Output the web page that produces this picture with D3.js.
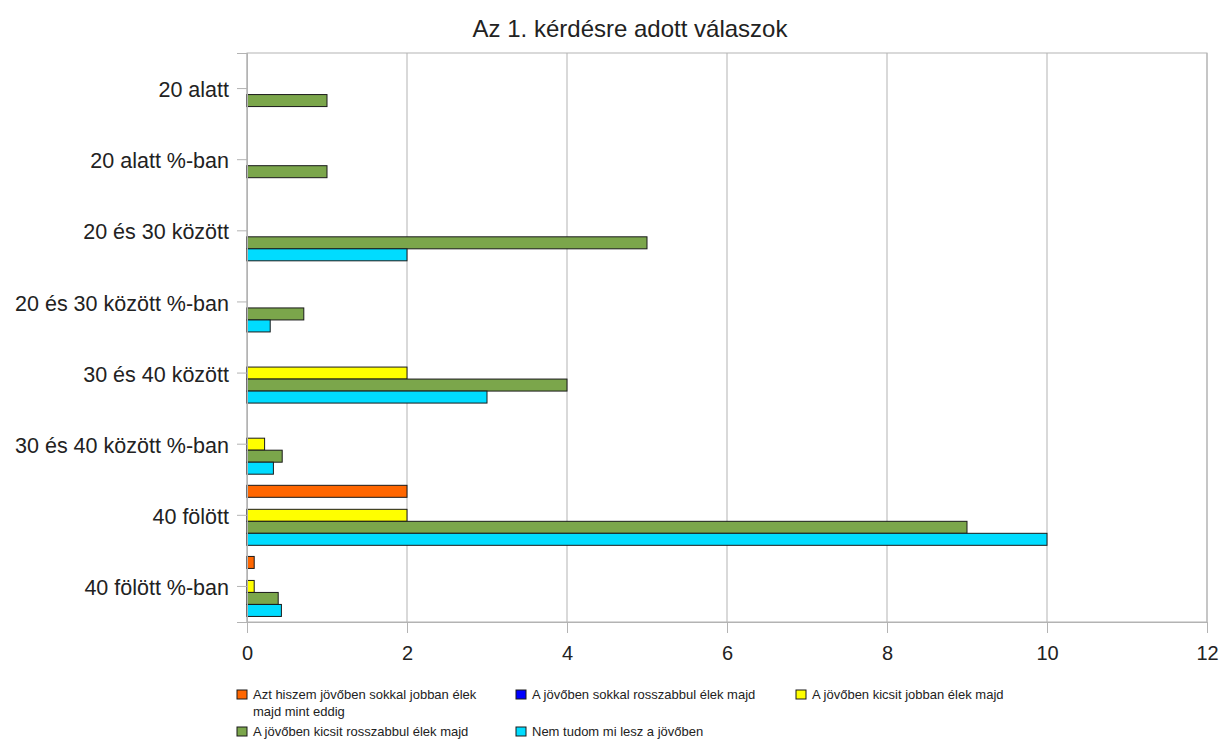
<!DOCTYPE html>
<html>
<head>
<meta charset="utf-8">
<script src="https://cdn.jsdelivr.net/npm/d3@7"></script>
<style>
body { margin: 0; background: #fff; }
text { font-family: "Liberation Sans", Arial, sans-serif; fill: #222; }
</style>
</head>
<body>
<script>
// adatok
var categories = ["20 alatt", "20 alatt %-ban", "20 és 30 között", "20 és 30 között %-ban",
	"30 és 40 között", "30 és 40 között %-ban", "40 fölött", "40 fölött %-ban"];
var seriesNames = ["Azt hiszem jövőben sokkal jobban élek majd mint eddig",
	"A jövőben sokkal rosszabbul élek majd",
	"A jövőben kicsit jobban élek majd",
	"A jövőben kicsit rosszabbul élek majd",
	"Nem tudom mi lesz a jövőben"];
var seriesColors = ["#ff6600", "#0000ff", "#ffff00", "#7ba64b", "#00dcff"];
var sokkalJobban =   [0, 0, 0, 0,    0, 0,    2, 0.09];
var sokkalRosszabb = [0, 0, 0, 0,    0, 0,    0, 0];
var kicsitJobban =   [0, 0, 0, 0,    2, 0.22, 2, 0.09];
var kicsitRosszabb = [1, 1, 5, 0.71, 4, 0.44, 9, 0.39];
var nemTudom =       [0, 0, 2, 0.29, 3, 0.33, 10, 0.43];
var xTicks = [0, 2, 4, 6, 8, 10, 12];

var seriesValues = [sokkalJobban, sokkalRosszabb, kicsitJobban, kicsitRosszabb, nemTudom];

var svgWidth = 1221, svgHeight = 743;
var plot = {left: 247, right: 1207, top: 53, bottom: 622};

var svg = d3.select('body').append('svg')
	.attr('width', svgWidth)
	.attr('height', svgHeight);

var x = d3.scaleLinear().domain([0, 12]).range([plot.left, plot.right]);
var y0 = d3.scaleBand().domain(categories).range([plot.top, plot.bottom]);
var y1 = d3.scaleBand().domain(d3.range(seriesNames.length)).range([0, 60]);
var groupOffset = (y0.bandwidth() - 60) / 2;

// cím
svg.append('text')
	.attr('x', 630).attr('y', 37)
	.attr('text-anchor', 'middle')
	.style('font-size', '24px')
	.text('Az 1. kérdésre adott válaszok');

// rácsvonalak
svg.append('g').selectAll('line.grid')
	.data(xTicks)
	.enter().append('line')
	.attr('x1', function(d) { return x(d); })
	.attr('x2', function(d) { return x(d); })
	.attr('y1', plot.top)
	.attr('y2', plot.bottom)
	.attr('stroke', '#b3b3b3')
	.attr('stroke-width', 1);

svg.append('rect')
	.attr('x', plot.left).attr('y', plot.top)
	.attr('width', plot.right - plot.left)
	.attr('height', plot.bottom - plot.top)
	.attr('fill', 'none')
	.attr('stroke', '#b3b3b3');

// oszlopok
var groups = svg.append('g').selectAll('g.cat')
	.data(categories)
	.enter().append('g')
	.attr('transform', function(d) { return 'translate(0,' + (y0(d) + groupOffset) + ')'; });

groups.selectAll('rect')
	.data(function(d, i) {
		return seriesValues.map(function(s, j) { return {s: j, v: s[i]}; })
			.filter(function(e) { return e.v > 0; });
	})
	.enter().append('rect')
	.attr('x', x(0))
	.attr('y', function(d) { return y1(d.s); })
	.attr('width', function(d) { return x(d.v) - x(0); })
	.attr('height', y1.bandwidth())
	.attr('fill', function(d) { return seriesColors[d.s]; })
	.attr('stroke', '#1a1a1a')
	.attr('stroke-width', 1);

// tengelyek
var yAxis = svg.append('g')
	.attr('transform', 'translate(' + plot.left + ',0)')
	.call(d3.axisLeft(y0).tickSize(10).tickPadding(8));
yAxis.select('.domain').attr('stroke', '#b3b3b3');
yAxis.selectAll('.tick line').attr('stroke', '#b3b3b3');
yAxis.selectAll('.tick text').style('font-size', '21.5px').attr('fill', '#222')
	.attr('dy', '0.4em');

var xAxis = svg.append('g')
	.attr('transform', 'translate(0,' + plot.bottom + ')')
	.call(d3.axisBottom(x).tickValues(xTicks).tickSize(11).tickPadding(13));
xAxis.select('.domain').attr('stroke', '#b3b3b3');
xAxis.selectAll('.tick line').attr('stroke', '#b3b3b3');
xAxis.selectAll('.tick text').style('font-size', '20px').attr('fill', '#222');

// jelmagyarázat
var legendPos = [[237, 690], [516, 690], [796, 690], [237, 727], [516, 727]];
var legend = svg.append('g').selectAll('g.leg')
	.data(seriesNames)
	.enter().append('g')
	.attr('transform', function(d, i) { return 'translate(' + legendPos[i][0] + ',' + legendPos[i][1] + ')'; });

legend.append('rect')
	.attr('width', 10).attr('height', 9)
	.attr('fill', function(d, i) { return seriesColors[i]; })
	.attr('stroke', '#1a1a1a');

legend.append('text')
	.attr('x', 16).attr('y', 9)
	.style('font-size', '13px')
	.each(function(d, i) {
		var t = d3.select(this);
		if (i === 0) {
			t.append('tspan').attr('x', 16).text('Azt hiszem jövőben sokkal jobban élek');
			t.append('tspan').attr('x', 16).attr('dy', 17).text('majd mint eddig');
		} else {
			t.text(d);
		}
	});
</script>
</body>
</html>
